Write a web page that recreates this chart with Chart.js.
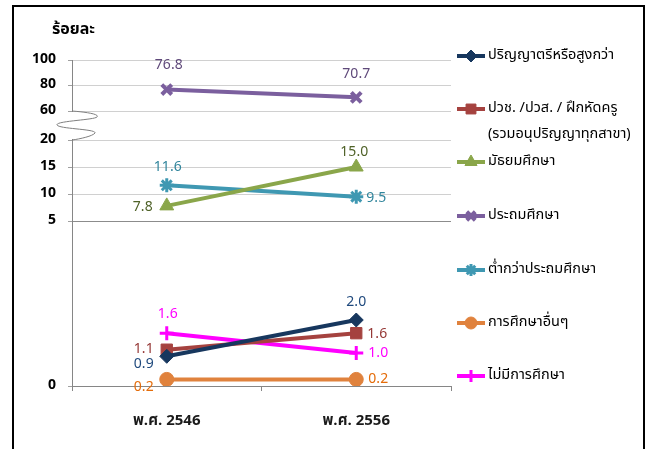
<!DOCTYPE html>
<html>
<head>
<meta charset="utf-8">
<script src="https://cdn.jsdelivr.net/npm/chart.js@4/dist/chart.umd.min.js"></script>
<style>
  html, body { margin: 0; padding: 0; background: #ffffff; }
  #wrap { width: 653px; height: 449px; position: relative; }
</style>
</head>
<body>
<div id="wrap"><canvas id="c"></canvas></div>
<script>
// ---------------- DATA ----------------
const categories = ['พ.ศ. 2546', 'พ.ศ. 2556'];
const seriesNames = [
  'ปริญญาตรีหรือสูงกว่า',
  'ปวช. /ปวส. / ฝึกหัดครู (รวมอนุปริญญาทุกสาขา)',
  'มัธยมศึกษา',
  'ประถมศึกษา',
  'ต่ำกว่าประถมศึกษา',
  'การศึกษาอื่นๆ',
  'ไม่มีการศึกษา'
];
const bachelorUp   = [0.9, 2.0];
const vocational   = [1.1, 1.6];
const secondary    = [7.8, 15.0];
const primary      = [76.8, 70.7];
const belowPrimary = [11.6, 9.5];
const otherEdu     = [0.2, 0.2];
const noEdu        = [1.6, 1.0];
const yTickValues  = [0, 5, 10, 15, 20, 60, 80, 100];
const yTitle = 'ร้อยละ';

// ---------------- STYLE ----------------
const FONT = "Tahoma, 'Noto Sans Thai', 'Noto Sans', 'DejaVu Sans', sans-serif";
const seriesValues = [bachelorUp, vocational, secondary, primary, belowPrimary, otherEdu, noEdu];
const lineColors  = ['#17375E', '#A5423F', '#8AA64A', '#7B5F9E', '#3F98B2', '#E0823D', '#FF00FF'];
const labelColors = ['#1F497D', '#953735', '#4F6228', '#5F497A', '#31859C', '#E46C0A', '#FF00FF'];
const pointStyles = ['rectRot', 'rect', 'triangle', 'crossRot', 'star', 'circle', 'cross'];
const pointRadii  = [7, 8, 8, 7, 7, 7, 7];
const pointBorderW = [1, 1, 1, 4, 3, 1, 3];
// label offsets (dx, dy) relative to the point, per series per category
const labelOffsets = [
  [[-23, 9], [0, -17]],
  [[-23, 0], [21, 2]],
  [[-24, 2], [-2, -14]],
  [[2, -23], [0, -22]],
  [[1, -17], [20, 2]],
  [[-23, 9], [22, 1]],
  [[1, -18], [22, 1]]
];
// legend y positions (marker centers)
const legendY = [56, 109, 162, 216, 270, 323, 376];

// broken axis: value -> axis units (segments with their own scale)
const axisSegments = [
  { from: 0,  to: 5,   size: 165 },
  { from: 5,  to: 20,  size: 81 },
  { from: 20, to: 60,  size: 29 },
  { from: 60, to: 100, size: 51 }
];
function tr(v) {
  let acc = 0;
  for (const s of axisSegments) {
    if (v <= s.to) return acc + (v - s.from) / (s.to - s.from) * s.size;
    acc += s.size;
  }
  return acc;
}
const yMaxT = tr(100);

const datasets = seriesValues.map((vals, i) => ({
  label: seriesNames[i],
  data: vals.map(tr),
  rawValues: vals,
  borderColor: lineColors[i],
  backgroundColor: lineColors[i],
  pointBackgroundColor: lineColors[i],
  pointBorderColor: lineColors[i],
  pointStyle: pointStyles[i],
  pointRadius: pointRadii[i],
  pointHoverRadius: pointRadii[i],
  pointBorderWidth: pointBorderW[i],
  borderWidth: 4,
  tension: 0,
  fill: false
}));

function drawMarker(ctx, i, x, y, r) {
  const opts = { pointStyle: pointStyles[i], radius: r, borderWidth: pointBorderW[i], rotation: 0 };
  ctx.save();
  ctx.fillStyle = lineColors[i];
  ctx.strokeStyle = lineColors[i];
  ctx.lineWidth = pointBorderW[i];
  if (Chart.helpers && Chart.helpers.drawPoint) {
    Chart.helpers.drawPoint(ctx, opts, x, y);
  } else {
    ctx.beginPath(); ctx.arc(x, y, r, 0, Math.PI * 2); ctx.fill();
  }
  ctx.restore();
}

const decorPlugin = {
  id: 'decor',
  afterDatasetsDraw(chart) {
    const ctx = chart.ctx;
    ctx.save();
    ctx.font = "14px " + FONT;
    ctx.textAlign = 'center';
    ctx.textBaseline = 'middle';
    chart.data.datasets.forEach((ds, i) => {
      const meta = chart.getDatasetMeta(i);
      meta.data.forEach((pt, j) => {
        const off = labelOffsets[i][j];
        ctx.fillStyle = labelColors[i];
        ctx.fillText(ds.rawValues[j].toFixed(1), pt.x + off[0], pt.y + off[1]);
      });
    });
    ctx.restore();
  },
  afterDraw(chart) {
    const ctx = chart.ctx;
    const y = chart.scales.y;
    const area = chart.chartArea;
    // axis break
    const yTop = y.getPixelForValue(tr(60));
    const yBot = y.getPixelForValue(tr(20));
    const ax = area.left;
    ctx.save();
    ctx.fillStyle = '#ffffff';
    ctx.fillRect(ax - 2, yTop + 1, 4, yBot - yTop - 2);
    ctx.strokeStyle = '#7F7F7F';
    ctx.lineWidth = 1;
    const h = yBot - yTop;
    ctx.beginPath();
    ctx.moveTo(ax, yTop);
    ctx.bezierCurveTo(ax + 13, yTop + 1, ax + 28, yTop + 3, ax + 25, yTop + 6);
    ctx.bezierCurveTo(ax + 22, yTop + 9, ax - 17, yTop + 10, ax - 15, yTop + 14);
    ctx.bezierCurveTo(ax - 13, yTop + 18, ax + 25, yTop + 18, ax + 23, yTop + 22);
    ctx.bezierCurveTo(ax + 21, yTop + 25, ax + 8, yTop + h - 1, ax, yBot);
    ctx.stroke();
    ctx.restore();

    // title
    ctx.save();
    ctx.fillStyle = '#000000';
    ctx.font = "bold 16px " + FONT;
    ctx.textAlign = 'left';
    ctx.textBaseline = 'middle';
    ctx.fillText(yTitle, 52, 31);
    ctx.restore();

    // legend
    ctx.save();
    ctx.font = "14.5px " + FONT;
    ctx.textAlign = 'left';
    ctx.textBaseline = 'middle';
    seriesNames.forEach((name, i) => {
      const ly = legendY[i];
      ctx.strokeStyle = lineColors[i];
      ctx.lineWidth = 4;
      ctx.beginPath();
      ctx.moveTo(457, ly);
      ctx.lineTo(485, ly);
      ctx.stroke();
      drawMarker(ctx, i, 471, ly, pointRadii[i] - 1);
      ctx.fillStyle = '#000000';
      if (i === 1) {
        ctx.fillText('ปวช. /ปวส. / ฝึกหัดครู', 488, ly);
        ctx.fillText('(รวมอนุปริญญาทุกสาขา)', 488, ly + 26);
      } else {
        ctx.fillText(name, 488, ly);
      }
    });
    ctx.restore();

    // outer frame
    ctx.save();
    ctx.strokeStyle = '#000000';
    ctx.lineWidth = 2;
    ctx.beginPath();
    ctx.moveTo(13, 460);
    ctx.lineTo(13, 6);
    ctx.lineTo(644, 6);
    ctx.lineTo(644, 460);
    ctx.stroke();
    ctx.restore();
  }
};

new Chart(document.getElementById('c'), {
  type: 'line',
  data: { labels: categories, datasets },
  plugins: [decorPlugin],
  options: {
    responsive: true,
    maintainAspectRatio: false,
    animation: false,
    layout: { padding: { left: 0, right: 202, top: 60, bottom: 0 } },
    plugins: { legend: { display: false }, tooltip: { enabled: false }, title: { display: false } },
    scales: {
      x: {
        type: 'category',
        offset: true,
        grid: { offset: true, drawOnChartArea: false, drawTicks: true, tickLength: 5, tickColor: '#868686' },
        border: { display: true, color: '#868686', width: 1 },
        ticks: { color: '#1a1a1a', font: { family: FONT, size: 15, weight: 'bold' }, padding: 22, maxRotation: 0 },
        afterFit(scale) { scale.height = 63; }
      },
      y: {
        type: 'linear',
        min: 0,
        max: yMaxT,
        afterBuildTicks(scale) { scale.ticks = yTickValues.map(v => ({ value: tr(v) })); },
        grid: {
          drawTicks: true,
          tickLength: 4,
          color: (c) => {
            const v = c.tick ? c.tick.value : null;
            if (v === 0) return '#868686';
            if (v === tr(5)) return '#8C8C8C';
            return '#D0D0D0';
          },
          tickColor: '#A0A0A0'
        },
        border: { display: true, color: '#868686', width: 1 },
        ticks: {
          color: '#000000',
          font: { family: FONT, size: 14, weight: 'bold' },
          padding: 12,
          autoSkip: false,
          callback: (value, index) => String(yTickValues[index])
        },
        afterFit(scale) { scale.width = 72; }
      }
    }
  }
});
</script>
</body>
</html>
